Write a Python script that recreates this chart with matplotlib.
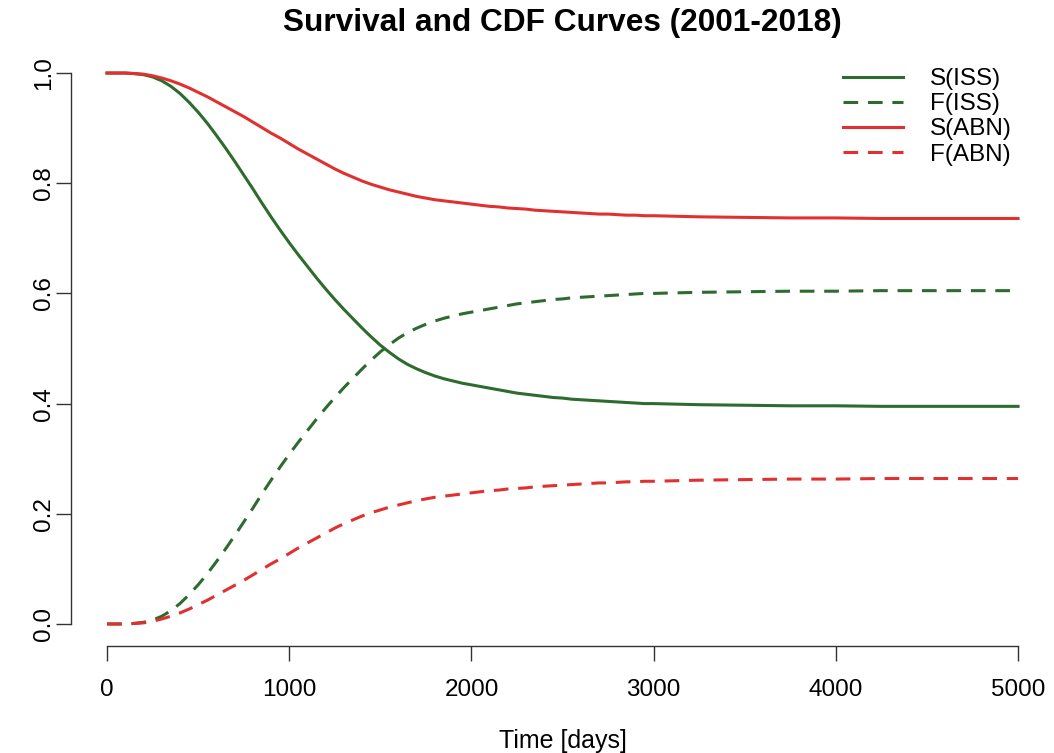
import matplotlib
matplotlib.use("Agg")
import matplotlib.pyplot as plt

plt.rcParams["font.family"] = ["Liberation Sans", "DejaVu Sans"]

# --- Daten ---
time_days = [0, 50, 100, 150, 200, 250, 300, 350, 400, 450, 500, 550, 600, 650, 700, 750,
             800, 850, 900, 950, 1000, 1050, 1100, 1150, 1200, 1250, 1300, 1350, 1400, 1450,
             1500, 1550, 1600, 1650, 1700, 1750, 1800, 1850, 1900, 1950, 2000, 2050, 2100,
             2150, 2200, 2250, 2300, 2350, 2400, 2450, 2500, 2550, 2600, 2650, 2700, 2750,
             2800, 2850, 2900, 2950, 3000, 3250, 3500, 3750, 4000, 4250, 4500, 4750, 5000]

surv_iss = [1.000, 1.000, 1.000, 0.999, 0.997, 0.993, 0.986, 0.976, 0.963, 0.947, 0.929,
            0.909, 0.887, 0.864, 0.840, 0.815, 0.790, 0.764, 0.739, 0.715, 0.692, 0.670,
            0.649, 0.628, 0.608, 0.589, 0.571, 0.554, 0.537, 0.521, 0.506, 0.493, 0.481,
            0.471, 0.463, 0.456, 0.450, 0.445, 0.441, 0.437, 0.434, 0.431, 0.428, 0.425,
            0.422, 0.419, 0.417, 0.415, 0.413, 0.411, 0.410, 0.408, 0.407, 0.406, 0.405,
            0.404, 0.403, 0.402, 0.401, 0.400, 0.400, 0.398, 0.397, 0.396, 0.396, 0.395,
            0.395, 0.395, 0.395]

surv_abn = [1.000, 1.000, 1.000, 0.999, 0.998, 0.995, 0.991, 0.986, 0.980, 0.973, 0.965,
            0.957, 0.948, 0.939, 0.930, 0.921, 0.911, 0.901, 0.891, 0.882, 0.872, 0.862,
            0.853, 0.844, 0.835, 0.826, 0.818, 0.811, 0.804, 0.798, 0.793, 0.788, 0.784,
            0.780, 0.776, 0.773, 0.770, 0.768, 0.766, 0.764, 0.762, 0.760, 0.758, 0.757,
            0.755, 0.754, 0.753, 0.751, 0.750, 0.749, 0.748, 0.747, 0.746, 0.745, 0.744,
            0.744, 0.743, 0.742, 0.742, 0.741, 0.741, 0.739, 0.738, 0.737, 0.737, 0.736,
            0.736, 0.736, 0.736]

# CDF = 1 - Survival
cdf_iss = [1 - s for s in surv_iss]
cdf_abn = [1 - s for s in surv_abn]

green = "#2e6b2e"
red = "#e0302f"
lw = 2.2
dash = (0, (4.8, 3.2))

# --- Plot ---
fig = plt.figure(figsize=(10.54, 7.53), dpi=100)
ax = fig.add_axes([70.6 / 1054, 107 / 753, (1054.5 - 70.6) / 1054, (646 - 51) / 753])

ax.plot(time_days, surv_iss, color=green, lw=lw, label="S(ISS)")
ax.plot(time_days, cdf_iss, color=green, lw=lw, linestyle=dash, label="F(ISS)")
ax.plot(time_days, surv_abn, color=red, lw=lw, label="S(ABN)")
ax.plot(time_days, cdf_abn, color=red, lw=lw, linestyle=dash, label="F(ABN)")

ax.set_xlim(-200, 5200)
ax.set_ylim(-0.04, 1.04)
ax.set_xticks([0, 1000, 2000, 3000, 4000, 5000])
ax.set_yticks([0.0, 0.2, 0.4, 0.6, 0.8, 1.0])
ax.set_yticklabels(["0.0", "0.2", "0.4", "0.6", "0.8", "1.0"], rotation=90, va="center")

for side in ["top", "right"]:
    ax.spines[side].set_visible(False)
ax.spines["left"].set_bounds(0, 1)
ax.spines["bottom"].set_bounds(0, 5000)
for side in ["left", "bottom"]:
    ax.spines[side].set_color("#333333")
    ax.spines[side].set_linewidth(1.0)
ax.tick_params(axis="both", length=10.8, width=1.0, color="#333333", labelsize=17.5)
ax.tick_params(axis="x", pad=13)
ax.tick_params(axis="y", pad=0.5)

ax.set_xlabel("Time [days]", fontsize=18, labelpad=20)
fig.text(562.5 / 1054, 1 - 23 / 753, "Survival and CDF Curves (2001-2018)", fontsize=22.8,
         fontweight="bold", ha="center", va="center")

ax.legend(loc="upper left", bbox_to_anchor=(843 / 1054, 1 - 68 / 753), bbox_transform=fig.transFigure,
          frameon=False, fontsize=17.5, handlelength=2.47, handletextpad=1.1, labelspacing=0.13,
          borderpad=0, borderaxespad=0)

fig.savefig("out.png", dpi=100)
